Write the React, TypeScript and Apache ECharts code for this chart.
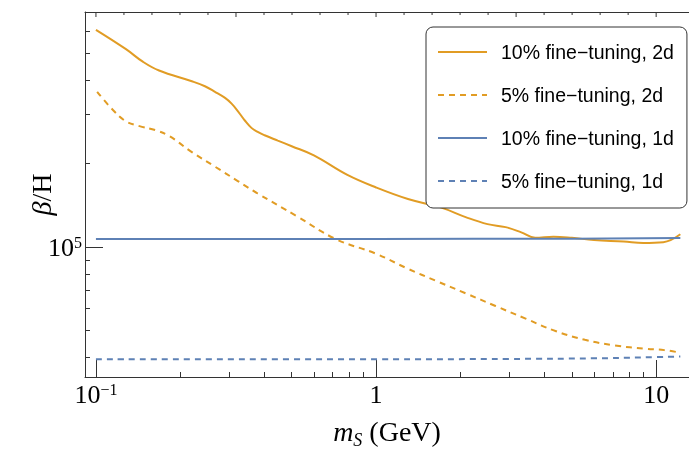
import React, { useEffect, useRef } from 'react';
import * as echarts from 'echarts';

// axis ranges
const X_MIN = 0.0914;
const X_MAX = 13.1;
const Y_MIN = 3.4e4;
const Y_MAX = 7.04e5;

// 10% fine-tuning, 2d (solid orange)
const ms2d10 = [0.1, 0.128, 0.147, 0.168, 0.22, 0.245, 0.266, 0.289, 0.305, 0.322, 0.34, 0.359, 0.378, 0.4, 0.446, 0.5, 0.6, 0.79, 1.0, 1.3, 1.7, 2.1, 2.5, 2.9, 3.3, 3.7, 4.3, 5.0, 6.0, 7.66, 9.0, 10.6, 12.2];
const beta2d10 = [6.07e5, 5.17e5, 4.66e5, 4.33e5, 3.96e5, 3.8e5, 3.63e5, 3.45e5, 3.29e5, 3.08e5, 2.86e5, 2.69e5, 2.6e5, 2.53e5, 2.42e5, 2.31e5, 2.14e5, 1.82e5, 1.64e5, 1.49e5, 1.39e5, 1.28e5, 1.21e5, 1.18e5, 1.13e5, 1.08e5, 1.09e5, 1.08e5, 1.06e5, 1.047e5, 1.035e5, 1.041e5, 1.112e5];

// 5% fine-tuning, 2d (dashed orange)
const ms2d5 = [0.101, 0.115, 0.128, 0.143, 0.163, 0.182, 0.22, 0.266, 0.321, 0.378, 0.523, 0.716, 1.0, 1.29, 1.64, 2.09, 2.67, 3.42, 4.37, 5.57, 7.12, 9.1, 10.7, 12.2];
const beta2d5 = [3.63e5, 3.12e5, 2.84e5, 2.73e5, 2.64e5, 2.52e5, 2.2e5, 1.95e5, 1.73e5, 1.56e5, 1.29e5, 1.07e5, 9.46e4, 8.38e4, 7.55e4, 6.81e4, 6.13e4, 5.52e4, 4.98e4, 4.63e4, 4.42e4, 4.3e4, 4.25e4, 4.16e4];

// 10% fine-tuning, 1d (solid blue)
const ms1d10 = [0.1, 1.0, 5.0, 12.2];
const beta1d10 = [1.069e5, 1.07e5, 1.072e5, 1.078e5];

// 5% fine-tuning, 1d (dashed blue)
const ms1d5 = [0.1, 1.0, 3.0, 6.0, 9.0, 12.2];
const beta1d5 = [3.94e4, 3.94e4, 3.95e4, 3.97e4, 4.0e4, 4.03e4];

// top frame ticks (log10 exponents)
const TOP_TICK_EXP = [-1, -0.9, -0.8, -0.7, -0.6, -0.5, -0.4, -0.3, -0.2, -0.1, 0, 0.1, 0.2, 0.3, 0.4, 0.5, 0.6, 0.7, 0.8, 0.9, 1];

const NAMES = ['10% fine\u2212tuning, 2d', '5% fine\u2212tuning, 2d', '10% fine\u2212tuning, 1d', '5% fine\u2212tuning, 1d'];

const ORANGE = '#E19C24';
const BLUE = '#5E81B5';
const AXIS = '#333';
const SERIF = 'Liberation Serif, Times New Roman, serif';
const SANS = 'Liberation Sans, Arial, sans-serif';

const zip = (xs: number[], ys: number[]) => xs.map((x, i) => [x, ys[i]]);

const powLabel = (v: number) => {
  const l = Math.log10(v);
  const e = Math.round(l);
  if (Math.abs(l - e) > 1e-6) return '';
  if (e === 0) return '{b|1}';
  if (e === 1) return '{b|10}';
  return '{b|10}{sup|' + (e < 0 ? '\u2212' + -e : String(e)) + '}';
};

const labelRich = {
  b: { fontFamily: SERIF, fontSize: 26, color: '#000', lineHeight: 26 },
  sup: { fontFamily: SERIF, fontSize: 16, color: '#000', lineHeight: 16, verticalAlign: 'top' },
};

export default function App() {
  const ref = useRef<HTMLDivElement>(null);
  useEffect(() => {
    if (!ref.current) return;
    const chart = echarts.init(ref.current, undefined, { renderer: 'svg' });
    const lineSeries = (name: string, data: number[][], color: string, dashed: boolean) => ({
      name,
      type: 'line',
      data,
      xAxisIndex: 0,
      yAxisIndex: 0,
      symbol: 'none',
      showSymbol: false,
      smooth: 0.4,
      color,
      lineStyle: { color, width: 2, type: dashed ? [6, 5] : 'solid' },
      z: 3,
    });
    chart.setOption({
      animation: false,
      grid: { left: 85, top: 12, width: 610, height: 377, containLabel: false },
      legend: {
        data: NAMES,
        orient: 'vertical',
        left: 426,
        top: 27,
        padding: [15, 13, 17, 11],
        itemWidth: 49,
        itemHeight: 20,
        itemGap: 23,
        itemStyle: { opacity: 0 },
        backgroundColor: '#fff',
        borderColor: '#333',
        borderWidth: 1,
        borderRadius: 7,
        textStyle: { fontFamily: SANS, fontSize: 19.5, color: '#000', lineHeight: 20, padding: [0, 0, 0, 9] },
        selectedMode: false,
      },
      xAxis: [
        {
          type: 'log',
          logBase: 10,
          min: X_MIN,
          max: X_MAX,
          position: 'bottom',
          axisLine: { show: true, lineStyle: { color: AXIS, width: 1 } },
          axisTick: { show: true, inside: true, length: 17, lineStyle: { color: AXIS, width: 1 } },
          minorTick: { show: true, splitNumber: 9, length: 5, lineStyle: { color: AXIS, width: 1 } },
          axisLabel: { formatter: powLabel, rich: labelRich, margin: 4, showMinLabel: false, showMaxLabel: false },
          splitLine: { show: false },
          minorSplitLine: { show: false },
          name: '{i|m}{s|S}{n| (GeV)}',
          nameLocation: 'middle',
          nameGap: 40,
          nameMoveOverlap: false,
          nameTextStyle: {
            rich: {
              i: { fontFamily: SERIF, fontSize: 28, fontStyle: 'italic', color: '#000', lineHeight: 30, verticalAlign: 'top' },
              s: { fontFamily: SERIF, fontSize: 18, fontStyle: 'italic', color: '#000', lineHeight: 18, verticalAlign: 'top', padding: [14, 0, 0, 0] },
              n: { fontFamily: SERIF, fontSize: 28, color: '#000', lineHeight: 30, verticalAlign: 'top' },
            },
          },
        },
        {
          type: 'value',
          min: 0,
          max: 1,
          position: 'top',
          axisLine: { show: true, lineStyle: { color: AXIS, width: 1 } },
          axisTick: { show: false },
          axisLabel: { show: false },
          splitLine: { show: false },
        },
      ],
      yAxis: [
        {
          type: 'log',
          logBase: 10,
          min: Y_MIN,
          max: Y_MAX,
          position: 'left',
          axisLine: { show: true, lineStyle: { color: AXIS, width: 1 } },
          axisTick: { show: true, inside: true, length: 18, lineStyle: { color: AXIS, width: 1 } },
          minorTick: { show: true, splitNumber: 9, length: 5, lineStyle: { color: AXIS, width: 1 } },
          axisLabel: { formatter: powLabel, rich: labelRich, margin: 3, showMinLabel: false, showMaxLabel: false },
          splitLine: { show: false },
          minorSplitLine: { show: false },
          name: '{i|\u03b2}{n|/H}',
          nameLocation: 'middle',
          nameRotate: 90,
          nameGap: 30,
          nameMoveOverlap: false,
          nameTextStyle: {
            rich: {
              i: { fontFamily: SERIF, fontSize: 28, fontStyle: 'italic', color: '#000' },
              n: { fontFamily: SERIF, fontSize: 28, color: '#000' },
            },
          },
        },
      ],
      series: [
        lineSeries(NAMES[0], zip(ms2d10, beta2d10), ORANGE, false),
        lineSeries(NAMES[1], zip(ms2d5, beta2d5), ORANGE, true),
        lineSeries(NAMES[2], zip(ms1d10, beta1d10), BLUE, false),
        lineSeries(NAMES[3], zip(ms1d5, beta1d5), BLUE, true),
        {
          type: 'custom',
          name: 'topTicks',
          xAxisIndex: 0,
          yAxisIndex: 0,
          silent: true,
          clip: false,
          z: 4,
          data: TOP_TICK_EXP.map((e) => [Math.pow(10, e), Math.abs(e * 2 - Math.round(e * 2)) < 1e-6 ? 1 : 0]),
          renderItem: (_params: any, api: any) => {
            const p = api.coord([api.value(0), Y_MAX]);
            const len = api.value(1) ? 5 : 3;
            return {
              type: 'line',
              shape: { x1: p[0], y1: p[1], x2: p[0], y2: p[1] + len },
              style: { stroke: AXIS, lineWidth: 1 },
            };
          },
        },
      ],
    });
    return () => chart.dispose();
  }, []);
  return <div ref={ref} style={{ position: 'fixed', left: 0, top: 0, width: 689, height: 454 }} />;
}
